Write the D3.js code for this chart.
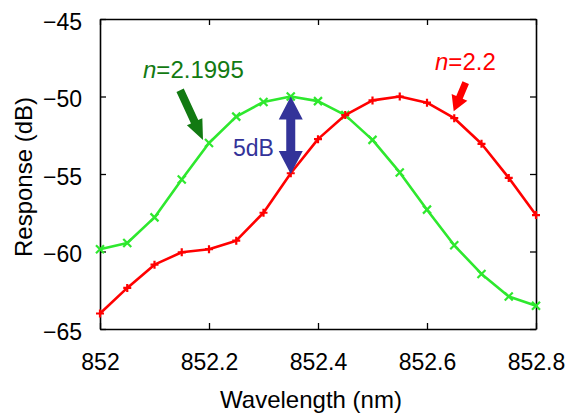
<!DOCTYPE html>
<html>
<head>
<meta charset="utf-8">
<script src="https://cdn.jsdelivr.net/npm/d3@7"></script>
<style>
  html, body { margin: 0; padding: 0; background: #fff; }
  svg { display: block; }
  text { font-family: "Liberation Sans", Arial, Helvetica, sans-serif; }
</style>
</head>
<body>
<svg id="chart" width="587" height="414"></svg>
<script>
// Wavelength samples (nm)
const wavelength = [852.00, 852.05, 852.10, 852.15, 852.20, 852.25, 852.30, 852.35, 852.40,
                    852.45, 852.50, 852.55, 852.60, 852.65, 852.70, 852.75, 852.80];
// Response (dB) for n = 2.1995
const responseN21995 = [-59.85, -59.45, -57.8, -55.35, -53.0, -51.3, -50.35, -50.0, -50.3,
                        -51.2, -52.8, -54.9, -57.3, -59.6, -61.45, -62.9, -63.5];
// Response (dB) for n = 2.2
const responseN22 = [-64.0, -62.35, -60.85, -60.05, -59.85, -59.3, -57.5, -54.95, -52.75,
                     -51.2, -50.25, -50.0, -50.4, -51.4, -53.05, -55.25, -57.65];
const xTicks = [852, 852.2, 852.4, 852.6, 852.8];
const yTicks = [-45, -50, -55, -60, -65];

const margin = { top: 19, right: 51, bottom: 85, left: 100 };
const width = 587 - margin.left - margin.right;
const height = 414 - margin.top - margin.bottom;

const svg = d3.select("#chart");
const g = svg.append("g").attr("transform", `translate(${margin.left},${margin.top})`);

const x = d3.scaleLinear().domain([852, 852.8]).range([0, width]);
const y = d3.scaleLinear().domain([-65, -45]).range([height, 0]);

const fmtX = d => (d === 852 ? "852" : d3.format(".1f")(d));

// Axes with inward ticks on all four sides
const axisStyle = sel => {
  sel.select(".domain").attr("stroke", "#000").attr("stroke-width", 1.6);
  sel.selectAll(".tick line").attr("stroke", "#000").attr("stroke-width", 1.3);
  sel.selectAll("text").attr("fill", "#000").style("font-size", "23px");
};

g.append("g").attr("transform", `translate(0,${height})`)
  .call(d3.axisBottom(x).tickValues(xTicks).tickFormat(fmtX).tickSizeInner(-6).tickSizeOuter(0).tickPadding(25))
  .call(axisStyle);
g.append("g").attr("transform", `translate(0,0)`)
  .call(d3.axisTop(x).tickValues(xTicks).tickFormat("").tickSizeInner(-6).tickSizeOuter(0))
  .call(axisStyle);
const yAx = g.append("g")
  .call(d3.axisLeft(y).tickValues(yTicks).tickFormat(d3.format("d")).tickSizeInner(-6).tickSizeOuter(0).tickPadding(18))
  .call(axisStyle);
yAx.selectAll(".tick text").attr("dy", "0.45em");
g.append("g").attr("transform", `translate(${width},0)`)
  .call(d3.axisRight(y).tickValues(yTicks).tickFormat("").tickSizeInner(-6).tickSizeOuter(0))
  .call(axisStyle);

// Axis titles
svg.append("text")
  .attr("x", 311).attr("y", 408)
  .attr("text-anchor", "middle").style("font-size", "24px").attr("fill", "#000")
  .text("Wavelength (nm)");
svg.append("text")
  .attr("transform", "translate(32,177) rotate(-90)")
  .attr("text-anchor", "middle").style("font-size", "24px").attr("fill", "#000")
  .text("Response (dB)");

// Curves
const line = d3.line().x(d => x(d[0])).y(d => y(d[1]));
const seriesList = [
  { values: responseN21995, color: "#2ee82e", marker: "x" },
  { values: responseN22, color: "#ff0000", marker: "+" }
];

seriesList.forEach(s => {
  const pts = wavelength.map((w, i) => [w, s.values[i]]);
  g.append("path").datum(pts)
    .attr("fill", "none").attr("stroke", s.color)
    .attr("stroke-width", 2.6).attr("stroke-linejoin", "round")
    .attr("d", line);
  const r = 4;
  const markerPath = s.marker === "x"
    ? `M${-r},${-r}L${r},${r}M${-r},${r}L${r},${-r}`
    : `M${-r},0L${r},0M0,${-r}L0,${r}`;
  g.append("g").selectAll("path").data(pts).join("path")
    .attr("transform", d => `translate(${x(d[0])},${y(d[1])})`)
    .attr("d", markerPath)
    .attr("fill", "none").attr("stroke", s.color).attr("stroke-width", 2.2);
});

// Block arrow polygon from tail to tip
function arrowPoints(x0, y0, x1, y1, shaftW, headW, headL) {
  const dx = x1 - x0, dy = y1 - y0, len = Math.hypot(dx, dy);
  const ux = dx / len, uy = dy / len, nx = -uy, ny = ux;
  const bx = x1 - ux * headL, by = y1 - uy * headL;
  const p = [
    [x0 + nx * shaftW / 2, y0 + ny * shaftW / 2],
    [bx + nx * shaftW / 2, by + ny * shaftW / 2],
    [bx + nx * headW / 2, by + ny * headW / 2],
    [x1, y1],
    [bx - nx * headW / 2, by - ny * headW / 2],
    [bx - nx * shaftW / 2, by - ny * shaftW / 2],
    [x0 - nx * shaftW / 2, y0 - ny * shaftW / 2]
  ];
  return p.map(q => q.join(",")).join(" ");
}

// Label arrows
const darkGreen = "#127a12";
g.append("polygon")
  .attr("points", arrowPoints(x(852.147), y(-49.6), x(852.189), y(-52.8), 8, 17, 20))
  .attr("fill", darkGreen);
g.append("polygon")
  .attr("points", arrowPoints(x(852.671), y(-49.1), x(852.649), y(-50.95), 7, 17, 15))
  .attr("fill", "#ff0000");

// 5 dB double arrow between the two curves at 852.35 nm
const blue = "#333399";
const ax = x(852.35), yTop = y(-50), yBot = y(-55);
const sw = 9, hw = 24, hl = 23;
g.append("polygon")
  .attr("points", [
    [ax, yTop], [ax + hw / 2, yTop + hl], [ax + sw / 2, yTop + hl],
    [ax + sw / 2, yBot - hl], [ax + hw / 2, yBot - hl], [ax, yBot],
    [ax - hw / 2, yBot - hl], [ax - sw / 2, yBot - hl], [ax - sw / 2, yTop + hl],
    [ax - hw / 2, yTop + hl]
  ].map(q => q.join(",")).join(" "))
  .attr("fill", blue);

// Text annotations
svg.append("text").attr("x", 233).attr("y", 156)
  .style("font-size", "23px").attr("fill", blue).text("5dB");

const lab1 = svg.append("text").attr("x", 143).attr("y", 78)
  .style("font-size", "24px").attr("fill", darkGreen);
lab1.append("tspan").style("font-style", "italic").text("n");
lab1.append("tspan").text("=2.1995");

const lab2 = svg.append("text").attr("x", 435).attr("y", 70)
  .style("font-size", "24px").attr("fill", "#ff0000");
lab2.append("tspan").style("font-style", "italic").text("n");
lab2.append("tspan").text("=2.2");
</script>
</body>
</html>
